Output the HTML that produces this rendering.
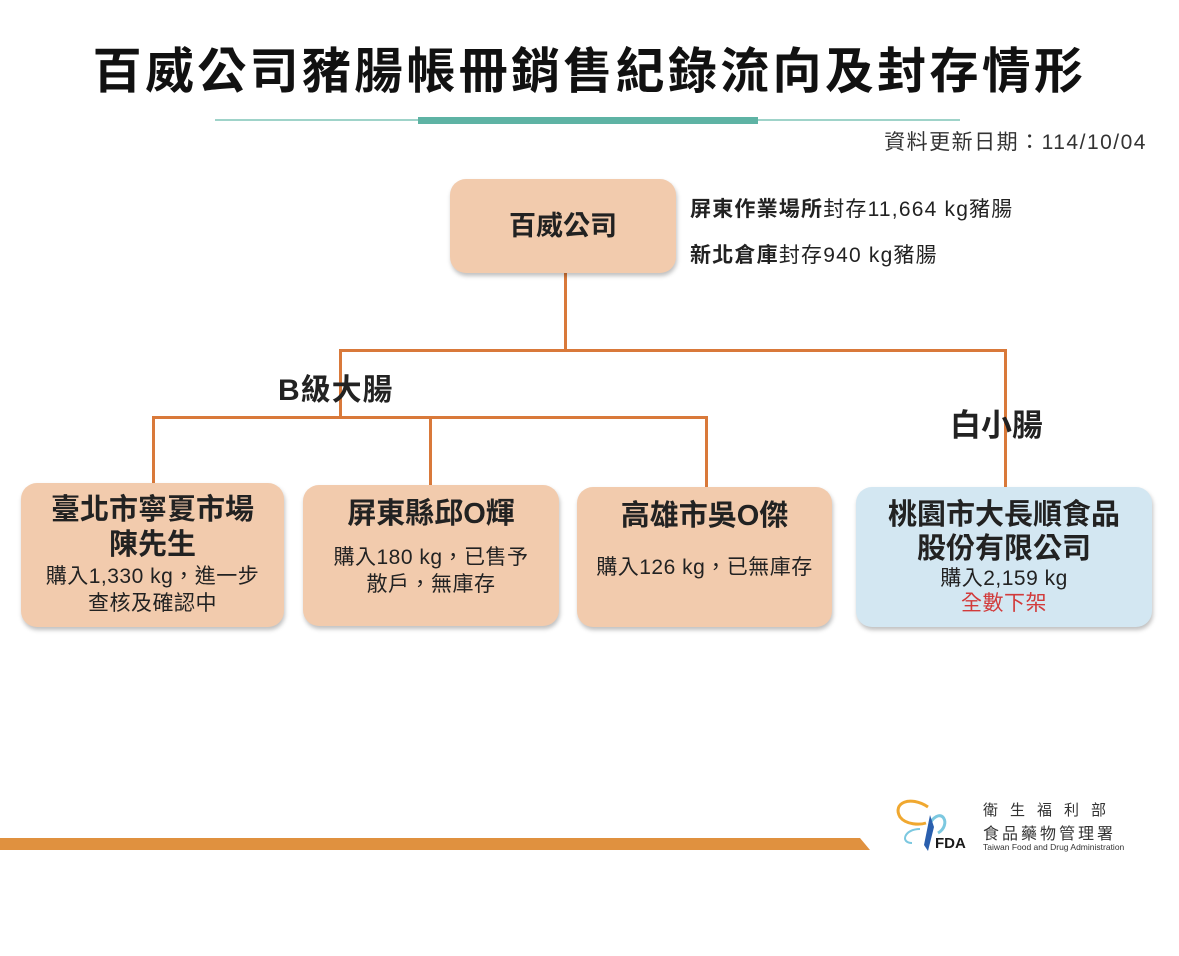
<!DOCTYPE html>
<html><head><meta charset="utf-8"><style>
*{margin:0;padding:0;box-sizing:border-box}
body{width:1179px;height:956px;background:#fff;position:relative;overflow:hidden;font-family:"Liberation Sans","Noto Sans CJK TC",sans-serif;color:#222}
.a{position:absolute;white-space:nowrap}
.box{position:absolute;border-radius:16px;background:#f2cbad;box-shadow:1px 3px 4px rgba(0,0,0,.25);text-align:center}
.ln{position:absolute;background:#d9793a}
.b{font-weight:bold}
.s{font-size:21px;line-height:27px;letter-spacing:.5px}
.t{font-size:29px;line-height:35px}
</style></head><body>
<div class="a b" style="left:0;width:1179px;text-align:center;top:32px;font-size:49px;letter-spacing:3.3px;color:#111">百威公司豬腸帳冊銷售紀錄流向及封存情形</div>
<div class="a" style="left:215px;top:119px;width:745px;height:2px;background:#9fd3c9"></div>
<div class="a" style="left:418px;top:117px;width:340px;height:7px;background:#5eb3a4"></div>
<div class="a" style="right:32px;top:126px;font-size:21px;letter-spacing:1.5px;color:#333">資料更新日期：114/10/04</div>

<div class="ln" style="left:564px;top:272px;width:3px;height:80px"></div>
<div class="ln" style="left:339px;top:349px;width:668px;height:3px"></div>
<div class="ln" style="left:1004px;top:349px;width:3px;height:139px"></div>
<div class="ln" style="left:339px;top:349px;width:3px;height:69px"></div>
<div class="ln" style="left:152px;top:416px;width:556px;height:3px"></div>
<div class="ln" style="left:152px;top:416px;width:3px;height:68px"></div>
<div class="ln" style="left:429px;top:416px;width:3px;height:70px"></div>
<div class="ln" style="left:705px;top:416px;width:3px;height:72px"></div>

<div class="box" style="left:450px;top:179px;width:226px;height:94px;line-height:94px;font-size:27px;font-weight:bold">百威公司</div>
<div class="a" style="left:690px;top:193px;font-size:21px;letter-spacing:1.2px"><b>屏東作業場所</b>封存11,664 kg豬腸</div>
<div class="a" style="left:690px;top:239px;font-size:21px;letter-spacing:1.2px"><b>新北倉庫</b>封存940 kg豬腸</div>
<div class="a b" style="left:278px;top:365px;font-size:30px;letter-spacing:1px">B級大腸</div>
<div class="a b" style="left:950px;top:400px;font-size:31px">白小腸</div>

<div class="box" style="left:21px;top:483px;width:263px;height:144px;padding-top:10px">
<div class="b t">臺北市寧夏市場<br>陳先生</div>
<div class="s">購入1,330 kg，進一步<br>查核及確認中</div></div>
<div class="box" style="left:303px;top:485px;width:256px;height:141px;padding-top:12px">
<div class="b t">屏東縣邱O輝</div>
<div class="s" style="margin-top:12px">購入180 kg，已售予<br>散戶，無庫存</div></div>
<div class="box" style="left:577px;top:487px;width:255px;height:140px;padding-top:12px">
<div class="b t">高雄市吳O傑</div>
<div class="s" style="margin-top:20px">購入126 kg，已無庫存</div></div>
<div class="box" style="left:856px;top:487px;width:296px;height:140px;padding-top:11px;background:#d3e7f2">
<div class="b t" style="line-height:34px">桃園市大長順食品<br>股份有限公司</div>
<div class="s" style="line-height:25px">購入2,159 kg<br><span style="color:#d23a3a">全數下架</span></div></div>

<svg class="a" style="left:0;top:836px" width="880" height="16"><polygon points="0,2 860,2 870,14 0,14" fill="#e0913f"/></svg>
<svg class="a" style="left:890px;top:795px" width="60" height="60"><path d="M38,12 C20,0 2,8 10,22 C16,30 30,30 36,28" fill="none" stroke="#f0a830" stroke-width="3"/><path d="M40,28 C52,10 62,30 48,38" fill="none" stroke="#7cc8e0" stroke-width="3"/><path d="M30,34 C14,34 10,48 22,48" fill="none" stroke="#7cc8e0" stroke-width="2"/><path d="M40,20 L44,32 L38,56 L34,50 Z" fill="#2a5fae"/></svg>
<div class="a b" style="left:935px;top:835px;font-size:15px;color:#1a1a1a">FDA</div>
<div class="a" style="left:983px;top:799px;font-size:15px;letter-spacing:12px;color:#333">衛生福利部</div>
<div class="a" style="left:983px;top:820px;font-size:16px;letter-spacing:3px;color:#333">食品藥物管理署</div>
<div class="a" style="left:983px;top:842px;font-size:8.5px;color:#333">Taiwan Food and Drug Administration</div>
</body></html>
